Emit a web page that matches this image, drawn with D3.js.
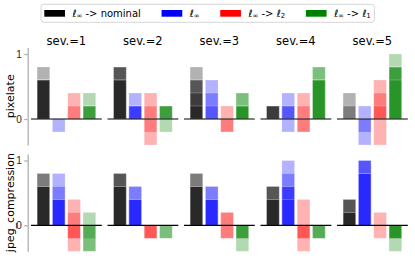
<!DOCTYPE html>
<html>
<head>
<meta charset="utf-8">
<script src="https://d3js.org/d3.v7.min.js"></script>
<style>
  body { margin: 0; background: #fff; }
  svg { font-family: "DejaVu Sans", sans-serif; }
  .axis path, .axis line { stroke: #b0b0b0; stroke-width: 1.3; }
  .axis text { font-size: 10px; fill: #262626; }
</style>
</head>
<body>
<div id="chart"></div>
<script>
// data: each row is one severity, 5 overlaid runs per method
const severities = [1, 2, 3, 4, 5];
const corruptions = ["pixelate", "jpeg_compression"];
const methods = ["nominal", "linf", "l2", "l1"];
const colors = ["#000000", "#0000ff", "#ff0000", "#008000"];

const pixelateNominal = [[0.8,0.6,0.6,0.6,0.6],[0.8,0.8,0.8,0.6,0.6],[0.8,0.6,0.6,0.4,0.2],[0.2,0.2,0.2,0.2,0],[0.4,0.2,0,0,0]];
const pixelateLinf    = [[0,0,0,0,-0.2],[0.4,0.2,0.2,0.2,0],[0.6,0.4,0.2,0,0],[0.4,0.2,0.2,0,-0.2],[0.2,0,0,-0.2,-0.4]];
const pixelateL2      = [[0.4,0.2,0,0,0],[0.4,0.2,0,-0.2,-0.4],[0.2,0,0,-0.2,-0.2],[0.4,0.2,0,-0.2,-0.2],[0.6,0.4,0.2,0,-0.4]];
const pixelateL1      = [[0.4,0.2,0.2,0.2,0],[0.2,0.2,0.2,0.2,-0.2],[0.4,0.4,0.2,0.2,0.2],[0.8,0.8,0.6,0.6,0.6],[1.0,0.8,0.8,0.8,0.6]];

const jpegNominal = [[0.8,0.8,0.6,0.6,0.6],[0.8,0.8,0.8,0.6,0.6],[0.8,0.8,0.6,0.6,0.6],[0.6,0.6,0.6,0.4,0.4],[0.4,0.4,0.4,0.2,0.2]];
const jpegLinf    = [[0.8,0.6,0.4,0.4,0.4],[0.6,0.6,0.4,0.4,0.4],[0.6,0.6,0.4,0.4,0.4],[1.0,0.8,0.6,0.6,0.4],[1.0,1.0,1.0,0.8,0.8]];
const jpegL2      = [[0.4,0.2,-0.2,-0.2,-0.4],[0,0,-0.2,-0.2,-0.2],[0.2,0.2,0,-0.2,-0.2],[0.4,0,-0.2,-0.2,-0.4],[0.2,0,0,0,-0.2]];
const jpegL1      = [[0.2,0,-0.2,-0.4,-0.4],[0,0,0,-0.2,-0.2],[0,-0.2,-0.2,-0.2,-0.4],[0,0,-0.2,-0.2,-0.2],[-0.2,-0.2,-0.2,-0.2,-0.4]];

const rowData = [
  [pixelateNominal, pixelateLinf, pixelateL2, pixelateL1],
  [jpegNominal, jpegLinf, jpegL2, jpegL1]
];
const yTicks = [0, 1];

const width = 415, height = 258;
const panelX0 = 31, panelStep = 76.5, panelW = 70.8;
const rowRanges = [[145, 47.5], [251.3, 154]];

const svg = d3.select('#chart').append('svg')
  .attr('width', width)
  .attr('height', height);

// legend
const legend = svg.append('g');
const legendBox = legend.append('rect')
  .attr('y', 4.3).attr('height', 18).attr('rx', 2.5)
  .attr('fill', '#fff').attr('stroke', '#d6d6d6').attr('stroke-width', 1);

function addLabel(g, kind) {
  const t = g.append('text').attr('y', 16.6).attr('font-size', 10).attr('fill', '#000');
  t.append('tspan').text('ℓ');
  t.append('tspan').text('∞').attr('font-size', 7).attr('dy', 1.8);
  if (kind === 'nominal') t.append('tspan').text(' -> nominal').attr('dy', -1.8);
  if (kind === 'l2' || kind === 'l1') {
    t.append('tspan').text(' -> ℓ').attr('dy', -1.8);
    t.append('tspan').text(kind === 'l2' ? '2' : '1').attr('font-size', 7).attr('dy', 1.8);
  }
  return t;
}

let lx = 44.3;
methods.forEach((m, i) => {
  const g = legend.append('g');
  g.append('rect').attr('x', lx).attr('y', 10).attr('width', 20.7).attr('height', 6.7).attr('fill', colors[i]);
  const t = addLabel(g, m).attr('x', lx + 28);
  lx = lx + 28 + t.node().getComputedTextLength() + 20.7;
});
legendBox.attr('x', 41).attr('width', lx - 20.7 + 3.5 - 41);

const x = d3.scaleBand().domain(methods).range([0, panelW]).paddingInner(0.17).paddingOuter(0.395);

corruptions.forEach((corr, r) => {
  const y = d3.scaleLinear().domain([-0.4, 1.1]).range(rowRanges[r]);

  svg.append('g').attr('class', 'axis')
    .attr('transform', 'translate(27.7,0)')
    .call(d3.axisLeft(y).tickValues(yTicks).tickSize(3.5).tickSizeOuter(0).tickPadding(2.5).tickFormat(d3.format('d')));

  const yc = (rowRanges[r][0] + rowRanges[r][1]) / 2;
  svg.append('text')
    .attr('transform', `translate(13.7,${yc}) rotate(-90)`)
    .attr('text-anchor', 'middle')
    .attr('font-size', 11)
    .attr('fill', '#000')
    .text(corr);

  severities.forEach((sev, s) => {
    const px = panelX0 + s * panelStep;
    const panel = svg.append('g').attr('transform', `translate(${px},0)`);

    if (r === 0) {
      panel.append('text')
        .attr('x', panelW / 2).attr('y', 45)
        .attr('text-anchor', 'middle')
        .attr('font-size', 11.5)
        .attr('fill', '#000')
        .text('sev.=' + sev);
    }

    methods.forEach((m, k) => {
      const runs = rowData[r][k][s].filter(v => v !== 0);
      panel.selectAll(null)
        .data(runs)
        .enter().append('rect')
        .attr('x', x(m))
        .attr('width', x.bandwidth())
        .attr('y', v => y(Math.max(0, v)))
        .attr('height', v => Math.abs(y(v) - y(0)))
        .attr('fill', colors[k])
        .attr('fill-opacity', 0.3)
        .attr('stroke', '#fff')
        .attr('stroke-opacity', 0.3)
        .attr('stroke-width', 0.8);
    });

    panel.append('line')
      .attr('x1', 0).attr('x2', panelW)
      .attr('y1', y(0)).attr('y2', y(0))
      .attr('stroke', '#000').attr('stroke-width', 1.2);
  });
});
</script>
</body>
</html>
